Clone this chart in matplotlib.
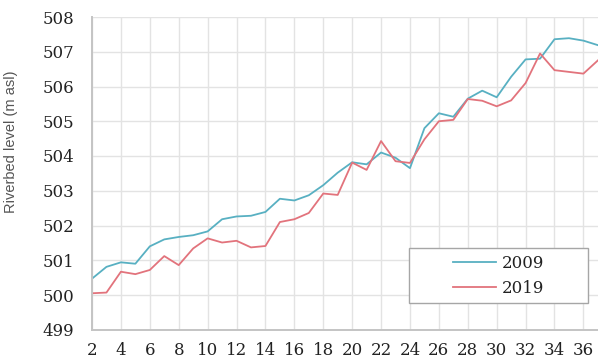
import matplotlib
matplotlib.use("Agg")
import matplotlib.pyplot as plt
from matplotlib.patches import Rectangle

# Chainage (cross-section number) and riverbed elevation for each survey year
sections = list(range(2, 38))
level_2009 = [500.47, 500.81, 500.94, 500.90, 501.40, 501.60, 501.67, 501.72,
              501.83, 502.18, 502.26, 502.28, 502.39, 502.77, 502.72, 502.87,
              503.16, 503.52, 503.82, 503.76, 504.10, 503.95, 503.65, 504.80,
              505.23, 505.13, 505.65, 505.88, 505.69, 506.28, 506.78, 506.80,
              507.36, 507.39, 507.32, 507.19]
level_2019 = [500.05, 500.07, 500.67, 500.60, 500.72, 501.12, 500.86, 501.34,
              501.63, 501.51, 501.56, 501.37, 501.41, 502.10, 502.18, 502.36,
              502.92, 502.88, 503.81, 503.60, 504.43, 503.85, 503.80, 504.48,
              505.00, 505.04, 505.64, 505.59, 505.43, 505.60, 506.10, 506.95,
              506.47, 506.42, 506.37, 506.75]
series_labels = ["2009", "2019"]
x_ticks = list(range(2, 37, 2))
y_ticks = list(range(499, 509))

fig = plt.figure(figsize=(5.98, 3.6), dpi=100)
ax = fig.add_axes([92 / 598, 30.25 / 360, 1 - 92 / 598, 312.75 / 360])

ax.plot(sections, level_2009, color="#58b0c2", lw=1.3, label=series_labels[0])
ax.plot(sections, level_2019, color="#e2737c", lw=1.3, label=series_labels[1])

ax.set_xlim(2, 37.01)
ax.set_ylim(499, 508)
ax.set_xticks(x_ticks)
ax.set_yticks(y_ticks)
ax.grid(True, color="#e3e3e3", lw=1.0)
ax.set_axisbelow(True)

for side in ("top", "right"):
    ax.spines[side].set_visible(False)
for side in ("left", "bottom"):
    ax.spines[side].set_color("#c4c4c4")
    ax.spines[side].set_linewidth(1.4)

ax.tick_params(axis="both", length=0, labelsize=12, labelcolor="#222222")
ax.tick_params(axis="y", pad=13)
ax.tick_params(axis="x", pad=8.5)
for lab in ax.get_xticklabels() + ax.get_yticklabels():
    lab.set_family("DejaVu Serif")

ax.set_ylabel("Riverbed level (m asl)", fontsize=10.5, color="#555555",
              family=["Liberation Sans Narrow", "Liberation Sans", "DejaVu Sans"])
ax.yaxis.set_label_coords(-0.146, 0.6)

# Legend frame drawn as a fixed box, legend entries centred inside it
box = Rectangle((409 / 598, 56.7 / 360), 178.7 / 598, 55 / 360,
                transform=fig.transFigure, facecolor="white",
                edgecolor="#a6a6a6", lw=1.0, zorder=5)
fig.patches.append(box)
leg = fig.legend(loc="center", bbox_to_anchor=(498.4 / 598, 84.2 / 360),
                 frameon=False, prop={"family": "DejaVu Serif", "size": 12},
                 handlelength=2.6, handletextpad=0.35, labelspacing=0.45,
                 borderpad=0.0)
leg.set_zorder(6)
for t in leg.get_texts():
    t.set_color("#222222")

fig.savefig("out.png", dpi=100)
